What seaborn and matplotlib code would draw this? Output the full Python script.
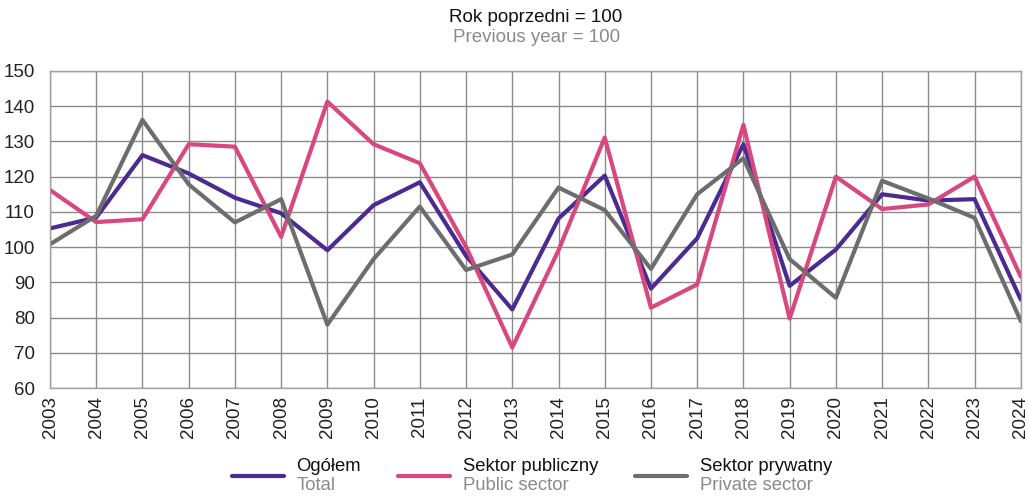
import pandas as pd
import matplotlib
matplotlib.use("Agg")
import matplotlib.pyplot as plt
import seaborn as sns

years = list(range(2003, 2025))
ogolem = [105.3, 108.4, 126.1, 120.9, 114.0, 109.6, 99.1, 111.9, 118.4, 97.5, 82.3,
          108.1, 120.3, 88.2, 102.5, 129.2, 89.0, 99.3, 115.0, 113.2, 113.6, 85.1]
publiczny = [116.2, 107.1, 107.9, 129.2, 128.5, 102.9, 141.3, 129.2, 123.8, 100.1, 71.5,
             99.1, 131.1, 82.8, 89.4, 134.7, 79.7, 120.0, 110.8, 112.1, 120.0, 91.6]
prywatny = [100.8, 108.9, 136.1, 117.8, 107.0, 113.6, 78.0, 96.6, 111.5, 93.5, 97.9,
            116.9, 110.5, 93.8, 115.0, 125.2, 96.6, 85.6, 118.8, 113.8, 108.3, 79.0]

series_pl = ["Ogółem", "Sektor publiczny", "Sektor prywatny"]
series_en = ["Total", "Public sector", "Private sector"]
colors = ["#4B2A91", "#D9477F", "#6D6D6D"]

df = pd.DataFrame({"Rok": years, series_pl[0]: ogolem,
                   series_pl[1]: publiczny, series_pl[2]: prywatny})
long_df = df.melt(id_vars="Rok", var_name="Seria", value_name="Wartość")

sns.set_theme(style="whitegrid")
plt.rcParams["font.family"] = ["Liberation Sans", "DejaVu Sans"]

fig = plt.figure(figsize=(10.29, 4.96), dpi=100)
ax = fig.add_axes([0.0486, 0.2177, 0.9434, 0.6393])

sns.lineplot(data=long_df, x="Rok", y="Wartość", hue="Seria",
             palette=dict(zip(series_pl, colors)), linewidth=3, ax=ax, legend=False)

ax.set_xlim(2003, 2024)
ax.set_ylim(60, 150)
ax.set_xticks(years)
ax.set_xticklabels([str(y) for y in years], rotation=90)
ax.set_yticks(range(60, 151, 10))
ax.set_xlabel("")
ax.set_ylabel("")
ax.grid(True, color="#8a8a8a", linewidth=1)
ax.tick_params(axis="both", length=0, labelsize=13.5, colors="#222222")
ax.tick_params(axis="y", pad=11)
ax.tick_params(axis="x", pad=6)
for s in ax.spines.values():
    s.set_color("#a0a0a0")
    s.set_linewidth(1)

fig.text(0.521, 0.965, "Rok poprzedni = 100", ha="center", va="center",
         fontsize=13.5, color="#111111")
fig.text(0.521, 0.925, "Previous year = 100", ha="center", va="center",
         fontsize=13.5, color="#8a8a8a")

# legend: use two-line labels for layout, then draw the lines as separate texts
handles = [plt.Line2D([], [], color=c, linewidth=3) for c in colors]
leg = fig.legend(handles, [a + "\n" + b for a, b in zip(series_pl, series_en)],
                 loc="center", bbox_to_anchor=(0.517, 0.04), ncol=3, frameon=False,
                 fontsize=13.3, handlelength=2.8, handletextpad=0.7,
                 columnspacing=2.0, labelspacing=0.0)

fig.canvas.draw()
renderer = fig.canvas.get_renderer()
inv = fig.transFigure.inverted()
for t, pl, en in zip(leg.get_texts(), series_pl, series_en):
    bb = t.get_window_extent(renderer)
    x0, y0 = inv.transform((bb.x0, bb.y0))
    _, y1 = inv.transform((bb.x1, bb.y1))
    t.set_visible(False)
    fig.text(x0, y1, pl, ha="left", va="top", fontsize=13.3, color="#111111")
    fig.text(x0, y0, en, ha="left", va="bottom", fontsize=13.3, color="#8a8a8a")

fig.savefig("out.png", dpi=100)
